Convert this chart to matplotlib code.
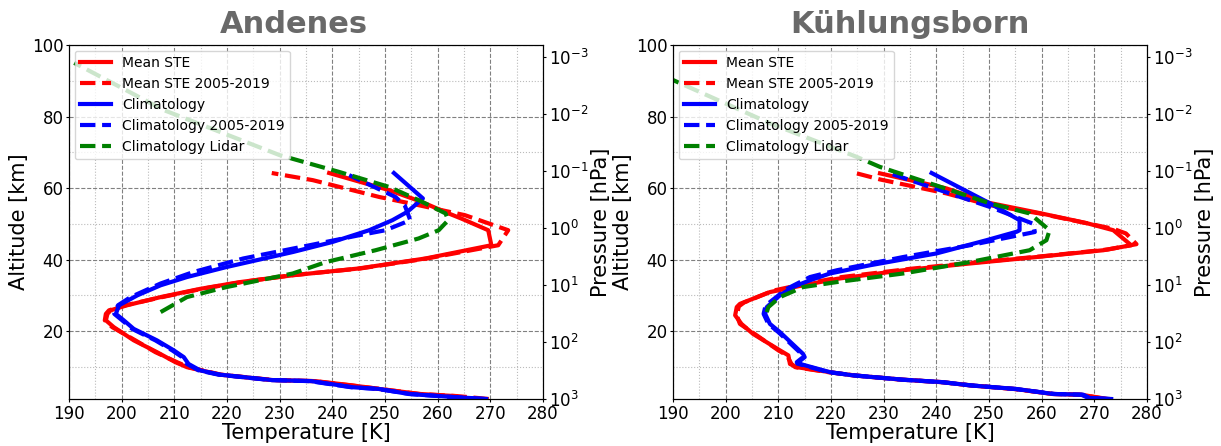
import matplotlib.pyplot as plt
import numpy as np
from matplotlib.ticker import MultipleLocator, NullLocator

# ---- Andenes ----
and_ste_z = [1.3, 1.8, 2.4, 3.8, 4.8, 6.0, 6.3, 7.8, 9.9, 11.3, 14.1, 17.4, 21.1, 23.0, 24.8, 25.8,
             27.2, 29.5, 31.8, 33.7, 35.6, 37.5, 40.3, 44.0, 48.2, 51.4, 53.3, 56.1, 59.4, 64.2]
and_ste_T = [264.0, 263.5, 256.7, 248.9, 243.8, 236.8, 228.5, 218.7, 212.4, 210.2, 206.7, 202.3, 198.5, 197.0, 197.3, 197.9,
             201.0, 207.4, 214.9, 222.5, 232.5, 245.0, 257.7, 270.2, 269.6, 264.6, 261.4, 257.0, 250.8, 239.4]

and_ste05_z = [1.0, 1.8, 2.4, 3.8, 4.8, 6.0, 6.3, 7.8, 9.9, 11.3, 14.1, 17.4, 21.1, 23.0, 24.8, 25.8,
               27.2, 29.5, 31.8, 33.7, 35.6, 37.5, 40.3, 44.0, 48.2, 52.4, 55.2, 57.5, 62.2, 64.2]
and_ste05_T = [269.7, 263.8, 256.4, 249.2, 243.5, 236.5, 228.8, 218.9, 212.7, 210.5, 206.4, 202.6, 198.2, 196.8, 197.0, 197.6,
               200.7, 207.7, 215.2, 222.8, 232.2, 245.3, 258.0, 271.5, 273.4, 265.2, 256.4, 248.9, 236.3, 228.5]

and_clim_z = [1.0, 1.6, 2.4, 3.8, 4.3, 6.0, 6.3, 7.8, 9.0, 10.8, 12.7, 14.6, 17.4, 20.6, 23.0, 24.8,
              27.2, 30.0, 32.8, 35.1, 37.9, 42.1, 44.9, 48.2, 51.0, 53.3, 55.7, 57.1, 64.2]
and_clim_T = [269.2, 262.5, 254.5, 248.9, 243.8, 236.0, 228.5, 218.7, 214.9, 212.7, 211.8, 209.9, 206.7, 202.3, 200.4, 198.9,
              199.5, 203.0, 207.4, 212.4, 219.9, 232.5, 240.0, 247.0, 251.4, 254.2, 256.1, 257.2, 251.7]

and_clim05_z = [1.0, 1.6, 2.4, 3.8, 4.3, 6.0, 6.3, 7.8, 9.0, 10.8, 12.7, 14.6, 17.4, 20.6, 23.0, 24.8,
                27.2, 29.5, 33.3, 36.5, 40.3, 44.0, 46.8, 48.2, 51.0, 55.0, 57.5, 63.6]
and_clim05_T = [268.9, 262.2, 254.8, 248.6, 243.5, 235.7, 228.2, 218.4, 214.6, 212.4, 211.5, 209.6, 206.4, 202.0, 200.1, 198.6,
                199.3, 201.7, 207.4, 213.6, 223.1, 235.7, 245.1, 250.1, 254.8, 253.8, 252.0, 243.2]

and_lidar_z = [25.3, 29.5, 32.3, 36.1, 39.3, 42.6, 45.9, 48.2, 51.0, 52.9, 56.6, 60.3, 64.5, 69.2, 81.8, 95.0]
and_lidar_T = [207.4, 212.4, 219.9, 232.5, 238.8, 248.2, 256.4, 260.2, 262.0, 261.5, 256.4, 250.8, 241.3, 230.0, 208.0, 191.0]

# ---- Kuehlungsborn ----
kb_ste_z = [1.0, 2.2, 2.4, 3.8, 4.8, 5.7, 6.4, 7.6, 8.5, 9.9, 10.8, 13.2, 14.6, 19.2, 22.0, 24.4, 26.7, 27.6,
            30.9, 32.8, 34.6, 37.0, 38.9, 40.7, 42.6, 44.0, 48.2, 50.2, 53.0, 55.8, 59.9, 64.1]
kb_ste_T = [272.5, 267.5, 262.0, 255.0, 246.4, 241.3, 233.7, 224.2, 219.8, 213.5, 212.2, 211.9, 210.3, 205.2, 203.0, 201.8, 202.1, 202.7,
            208.4, 214.7, 221.1, 233.7, 246.4, 259.0, 271.7, 277.0, 273.6, 268.5, 259.6, 250.2, 241.9, 229.3]

kb_ste05_z = [1.0, 2.2, 2.4, 3.8, 4.8, 5.7, 6.4, 7.6, 8.5, 9.9, 10.8, 13.2, 14.6, 19.2, 22.0, 24.4, 26.9, 28.0,
              31.3, 33.2, 35.1, 37.4, 39.2, 40.9, 42.8, 44.3, 47.3, 48.6, 52.9, 55.2, 58.5, 62.4, 64.1]
kb_ste05_T = [272.2, 267.2, 262.3, 254.7, 246.7, 241.0, 233.4, 224.5, 219.5, 213.2, 212.5, 211.6, 210.0, 205.5, 202.7, 202.1, 202.5, 203.5,
              209.0, 215.0, 222.0, 235.0, 247.5, 260.0, 272.5, 278.0, 276.0, 273.6, 259.6, 250.2, 241.9, 229.3, 224.9]

kb_clim_z = [1.0, 1.3, 2.2, 2.4, 3.8, 4.8, 5.7, 6.4, 7.6, 8.5, 10.9, 11.3, 12.7, 13.6, 19.7, 22.0, 24.8, 26.7,
             30.0, 32.3, 34.2, 36.1, 38.4, 41.7, 45.4, 47.8, 48.2, 51.0, 55.7, 64.2]
kb_clim_T = [273.2, 269.1, 267.9, 262.2, 255.2, 246.4, 241.3, 233.7, 224.2, 219.8, 213.9, 213.8, 215.0, 214.7, 210.3, 208.4, 207.5, 207.8,
             210.3, 212.8, 216.0, 219.8, 227.4, 240.0, 249.5, 255.3, 255.8, 255.8, 250.2, 239.1]

kb_clim05_z = [1.0, 1.3, 2.2, 2.4, 3.8, 4.8, 5.7, 6.4, 7.6, 8.5, 10.9, 11.3, 12.7, 13.6, 19.7, 22.0, 24.8, 26.7,
               28.1, 31.8, 35.1, 37.0, 40.7, 44.0, 46.3, 47.7, 50.0, 54.7, 64.1]
kb_clim05_T = [272.9, 268.8, 267.6, 262.5, 254.9, 246.7, 241.0, 233.4, 224.5, 219.5, 213.6, 213.5, 214.7, 214.4, 210.0, 208.1, 207.2, 207.5,
               208.4, 211.6, 216.0, 221.1, 233.7, 246.4, 254.0, 258.7, 258.4, 250.2, 231.2]

kb_lidar_z = [25.3, 26.7, 29.5, 32.3, 33.7, 36.1, 39.3, 42.6, 45.4, 48.2, 52.9, 55.7, 61.3, 65.9, 68.7, 78.1, 90.2]
kb_lidar_T = [207.8, 208.1, 210.3, 214.7, 221.1, 233.7, 246.4, 257.7, 260.9, 261.5, 257.7, 250.2, 238.8, 229.3, 224.9, 208.4, 190.0]

stations = ['Andenes', 'Kühlungsborn']
series_labels = ['Mean STE', 'Mean STE 2005-2019', 'Climatology', 'Climatology 2005-2019', 'Climatology Lidar']
series_colors = ['red', 'red', 'blue', 'blue', 'green']
series_styles = ['-', '--', '-', '--', '--']

profiles = {
    'Andenes': [(and_ste_T, and_ste_z), (and_ste05_T, and_ste05_z), (and_clim_T, and_clim_z),
                (and_clim05_T, and_clim05_z), (and_lidar_T, and_lidar_z)],
    'Kühlungsborn': [(kb_ste_T, kb_ste_z), (kb_ste05_T, kb_ste05_z), (kb_clim_T, kb_clim_z),
                     (kb_clim05_T, kb_clim05_z), (kb_lidar_T, kb_lidar_z)],
}

Z_MIN, Z_MAX = 1, 100
H = 6.92  # scale height for the pressure axis


def alt_to_p(z):
    return 1000.0 * np.exp(-(np.asarray(z) - Z_MIN) / H)


fig = plt.figure(figsize=(12.21, 4.46), dpi=100)
lefts = [0.0565, 0.5512]
title_x = [0.475, 0.5]

for left, tx, name in zip(lefts, title_x, stations):
    ax = fig.add_axes([left, 0.1054, 0.3882, 0.7937])
    for (T, z), lab, c, ls in zip(profiles[name], series_labels, series_colors, series_styles):
        ax.plot(T, z, color=c, ls=ls, lw=3, label=lab)

    ax.set_xlim(190, 280)
    ax.set_ylim(Z_MIN, Z_MAX)
    ax.xaxis.set_major_locator(MultipleLocator(10))
    ax.xaxis.set_minor_locator(MultipleLocator(5))
    ax.yaxis.set_major_locator(MultipleLocator(20))
    ax.yaxis.set_minor_locator(MultipleLocator(10))
    ax.grid(which='major', ls='--', color='gray', lw=0.8)
    ax.grid(which='minor', ls=':', color='#bbbbbb', lw=0.8)
    ax.tick_params(which='major', labelsize=12, length=2, pad=2)
    ax.tick_params(which='minor', length=0)
    ax.set_xlabel('Temperature [K]', fontsize=15, labelpad=0)
    ax.set_ylabel('Altitude [km]', fontsize=15, labelpad=2)
    ax.set_title(name, fontsize=22, fontweight='bold', color='dimgray', pad=9, x=tx)
    ax.legend(loc='upper left', fontsize=10, handlelength=2.2, borderaxespad=0.4)

    ax2 = ax.twinx()
    ax2.set_yscale('log')
    ax2.set_ylim(alt_to_p(Z_MIN), alt_to_p(Z_MAX))
    ax2.yaxis.set_minor_locator(NullLocator())
    ax2.tick_params(labelsize=12, length=2, pad=2)
    ax2.set_ylabel('Pressure [hPa]', fontsize=15, labelpad=2)

fig.savefig('out.png', dpi=100)
